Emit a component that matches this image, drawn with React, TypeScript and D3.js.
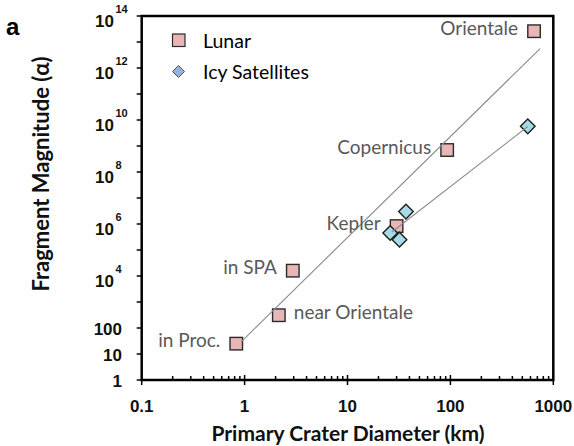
import React from "react";
import * as d3 from "d3";

// ---- data ----
const lunarNames = ["in Proc.", "near Orientale", "in SPA", "Kepler", "Copernicus", "Orientale"];
const lunarDiameter = [0.83, 2.15, 2.94, 30, 93, 650];
const lunarMagnitude = [25, 310, 1.6e4, 8.3e5, 7e8, 2.6e13];

const icyDiameter = [37, 26, 32, 565];
const icyMagnitude = [3e6, 4.5e5, 2.5e5, 5.7e9];

const lunarTrendD = [0.93, 745];
const lunarTrendA = [30, 5.6e12];
const icyTrendD = [27, 565];
const icyTrendA = [4.9e5, 5.6e9];

const xTicks = [0.1, 1, 10, 100, 1000];
const xTickLabels = ["0.1", "1", "10", "100", "1000"];
const yLabelPlain = [1, 10, 100];
const yLabelPow = [4, 6, 8, 10, 12, 14];

const legendLabels = ["Lunar", "Icy Satellites"];

// label placement (layout)
const labelSide: Record<string, "left" | "right"> = {
  "in Proc.": "left",
  "near Orientale": "right",
  "in SPA": "left",
  Kepler: "left",
  Copernicus: "left",
  Orientale: "left",
};

const W = 574;
const H = 446;
const L = 141.7, R = 553.3, T = 16, B = 380;

export default function App() {
  const x = d3.scaleLog().domain([0.1, 1000]).range([L, R]);
  const y = d3.scaleLog().domain([1, 1e14]).range([B, T]);

  const minorX: number[] = [];
  for (let e = -1; e < 3; e++) for (let m = 2; m <= 9; m++) minorX.push(m * Math.pow(10, e));
  const decadesY = d3.range(0, 15).map((e) => Math.pow(10, e));

  const line = d3
    .line<[number, number]>()
    .x((d) => x(d[0]))
    .y((d) => y(d[1]));

  const lunarTrend = lunarTrendD.map((d, i) => [d, lunarTrendA[i]] as [number, number]);
  const icyTrend = icyTrendD.map((d, i) => [d, icyTrendA[i]] as [number, number]);

  const sq = 12.5;
  const dia = 7.3;
  const labelFont = "Lato, 'Open Sans', sans-serif";
  const tickFont = "'Liberation Sans', Arial, sans-serif";

  return (
    <svg
      width={W}
      height={H}
      style={{ position: "absolute", left: 0, top: 0, background: "#fff" }}
    >
      <rect x={0} y={0} width={W} height={H} fill="#fff" />
      {/* panel letter */}
      <text x={6} y={35} fontFamily={tickFont} fontWeight="bold" fontSize={24} fill="#000">
        a
      </text>

      {/* x ticks */}
      {minorX.map((v, i) => (
        <line key={"mx" + i} x1={x(v)} x2={x(v)} y1={B} y2={B - 4} stroke="#000" strokeWidth={1.5} />
      ))}
      {xTicks.map((v, i) => (
        <line key={"Mx" + i} x1={x(v)} x2={x(v)} y1={B - 5} y2={B + 5} stroke="#000" strokeWidth={1.5} />
      ))}
      {xTicks.map((v, i) => (
        <text
          key={"xl" + i}
          x={x(v)}
          y={406}
          textAnchor="middle"
          dominantBaseline="central"
          fontFamily={tickFont}
          fontWeight="bold"
          fontSize={17}
          fill="#111"
        >
          {xTickLabels[i]}
        </text>
      ))}

      {/* y ticks */}
      {decadesY.map((v, i) => (
        <line key={"yt" + i} x1={L - 5} x2={L} y1={y(v)} y2={y(v)} stroke="#000" strokeWidth={1.5} />
      ))}
      {yLabelPlain.map((v, i) => (
        <text
          key={"yp" + i}
          x={122}
          y={y(v) + 1}
          textAnchor="end"
          dominantBaseline="central"
          fontFamily={tickFont}
          fontWeight="bold"
          fontSize={17}
          fill="#111"
        >
          {String(v)}
        </text>
      ))}
      {yLabelPow.map((e, i) => (
        <g key={"yw" + i}>
          <text
            x={95}
            y={y(Math.pow(10, e)) + 5}
            dominantBaseline="central"
            fontFamily={tickFont}
            fontWeight="bold"
            fontSize={17}
            fill="#111"
          >
            10
          </text>
          <text
            x={115.5}
            y={y(Math.pow(10, e)) - 7}
            dominantBaseline="central"
            fontFamily={tickFont}
            fontWeight="bold"
            fontSize={11}
            fill="#111"
          >
            {String(e)}
          </text>
        </g>
      ))}

      {/* frame */}
      <rect x={L} y={T} width={R - L} height={B - T} fill="none" stroke="#000" strokeWidth={2.5} />

      {/* markers */}
      {lunarDiameter.map((d, i) => (
        <rect
          key={"lu" + i}
          x={x(d) - sq / 2}
          y={y(lunarMagnitude[i]) - sq / 2}
          width={sq}
          height={sq}
          fill="#e8b6b6"
          stroke="#2a2a2a"
          strokeWidth={1.4}
        />
      ))}
      {icyDiameter.map((d, i) => {
        const cx = x(d), cy = y(icyMagnitude[i]);
        return (
          <path
            key={"ic" + i}
            d={`M${cx},${cy - dia}L${cx + dia},${cy}L${cx},${cy + dia}L${cx - dia},${cy}Z`}
            fill="#a6dbe8"
            stroke="#1e1e1e"
            strokeWidth={1.4}
          />
        );
      })}

      {/* trend lines */}
      <path d={line(lunarTrend) || ""} fill="none" stroke="#8a8a8a" strokeWidth={1.1} />
      <path d={line(icyTrend) || ""} fill="none" stroke="#8a8a8a" strokeWidth={1.1} />

      {/* data labels */}
      {lunarNames.map((n, i) => {
        const side = labelSide[n];
        const px = x(lunarDiameter[i]);
        const py = y(lunarMagnitude[i]);
        return (
          <text
            key={"lb" + i}
            x={side === "left" ? px - 16 : px + 15}
            y={py - 4}
            textAnchor={side === "left" ? "end" : "start"}
            dominantBaseline="central"
            fontFamily={labelFont}
            fontSize={19}
            fill="#595959"
          >
            {n}
          </text>
        );
      })}

      {/* legend */}
      <rect x={172.5} y={34} width={12.5} height={12.5} fill="#e8b6b6" stroke="#2a2a2a" strokeWidth={1.2} />
      <path d="M178.5,65.5L184.5,71.5L178.5,77.5L172.5,71.5Z" fill="#92b4dc" stroke="#555" strokeWidth={1} />
      <text x={203} y={40} dominantBaseline="central" fontFamily={labelFont} fontSize={19.5} fill="#000">
        {legendLabels[0]}
      </text>
      <text x={203} y={71.5} dominantBaseline="central" fontFamily={labelFont} fontSize={19.5} fill="#000">
        {legendLabels[1]}
      </text>

      {/* axis titles */}
      <text
        x={348}
        y={441}
        textAnchor="middle"
        fontFamily={labelFont}
        fontWeight="bold"
        fontSize={21}
        fill="#111"
      >
        Primary Crater Diameter (km)
      </text>
      <text
        transform="translate(40,174) rotate(-90)"
        textAnchor="middle"
        dominantBaseline="central"
        fontFamily={labelFont}
        fontWeight="bold"
        fontSize={22}
        fill="#111"
      >
        Fragment Magnitude (α)
      </text>
    </svg>
  );
}
